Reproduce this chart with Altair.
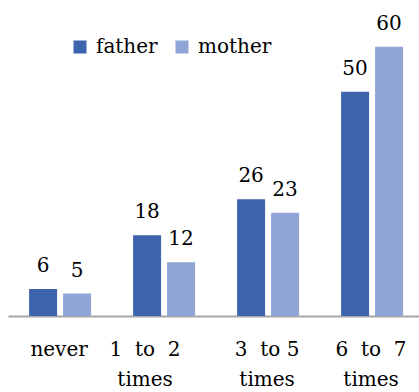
import altair as alt
import pandas as pd

# Categories, tick label lines and the two series
categories = ["never", "1 to 2 times", "3 to 5 times", "6 to 7 times"]
tick_labels = ["never", "1\u00a0\u00a0to\u00a0\u00a02\ntimes", "3\u00a0\u00a0to 5\ntimes", "6\u00a0\u00a0to\u00a0\u00a07\ntimes"]
series = ["father", "mother"]
father = [6, 18, 26, 50]
mother = [5, 12, 23, 60]

rows = []
for cat, f, m in zip(categories, father, mother):
    rows.append({"category": cat, "parent": "father", "value": f})
    rows.append({"category": cat, "parent": "mother", "value": m})
df = pd.DataFrame(rows)
ticks = pd.DataFrame({"category": categories, "label": tick_labels})

FONT = "DejaVu Serif"
SIZE = 20
colors = ["#3D64AD", "#8FA5D6"]

x_enc = alt.X(
    "category:N",
    sort=categories,
    scale=alt.Scale(paddingInner=0.404, paddingOuter=0.178, align=0.57),
    axis=alt.Axis(
        title=None, labels=False, ticks=False,
        domain=True, domainColor="#A6A6A6", domainWidth=2,
    ),
)
x_off = alt.XOffset("parent:N", sort=series, scale=alt.Scale(paddingInner=0.1765, paddingOuter=0))
y_enc = alt.Y("value:Q", scale=alt.Scale(domain=[0, 70], nice=False), axis=None)

bars = alt.Chart(df).mark_bar().encode(
    x=x_enc,
    xOffset=x_off,
    y=y_enc,
    color=alt.Color(
        "parent:N",
        sort=series,
        scale=alt.Scale(domain=series, range=colors),
        legend=alt.Legend(
            title=None,
            orient="none",
            direction="horizontal",
            legendX=62,
            legendY=35,
            symbolType="square",
            symbolSize=169,
            symbolStrokeWidth=0,
            symbolOpacity=1,
            labelFont=FONT,
            labelFontSize=SIZE,
            labelColor="#000000",
            labelOffset=6,
            columnPadding=14,
            padding=0,
        ),
    ),
)

values = alt.Chart(df).mark_text(
    font=FONT, fontSize=SIZE, color="#000000", baseline="alphabetic", dy=-17
).encode(
    x=alt.X("category:N", sort=categories),
    xOffset=x_off,
    y=y_enc,
    text=alt.Text("value:Q"),
)


def tick_layer(shift, keep):
    # category labels under the axis, wrapped onto two lines
    return (
        alt.Chart(ticks)
        .transform_filter(keep)
        .mark_text(
            font=FONT, fontSize=SIZE, color="#000000", baseline="alphabetic",
            lineBreak="\n", lineHeight=30, dx=shift,
        )
        .encode(
            x=alt.X("category:N", sort=categories),
            y=alt.value(354),
            text="label:N",
        )
    )


ticks_main = tick_layer(-1, alt.datum.category != "1 to 2 times")
ticks_shift = tick_layer(-19, alt.datum.category == "1 to 2 times")

chart = (
    alt.layer(bars, values, ticks_main, ticks_shift)
    .properties(
        width=411,
        height=314,
        padding={"left": 8, "top": 2, "right": 0, "bottom": 76},
        autosize=alt.AutoSizeParams(type="none"),
        background="white",
    )
    .configure_view(stroke=None)
)

chart.save("out.html", embed_options={"renderer": "svg", "actions": False})
